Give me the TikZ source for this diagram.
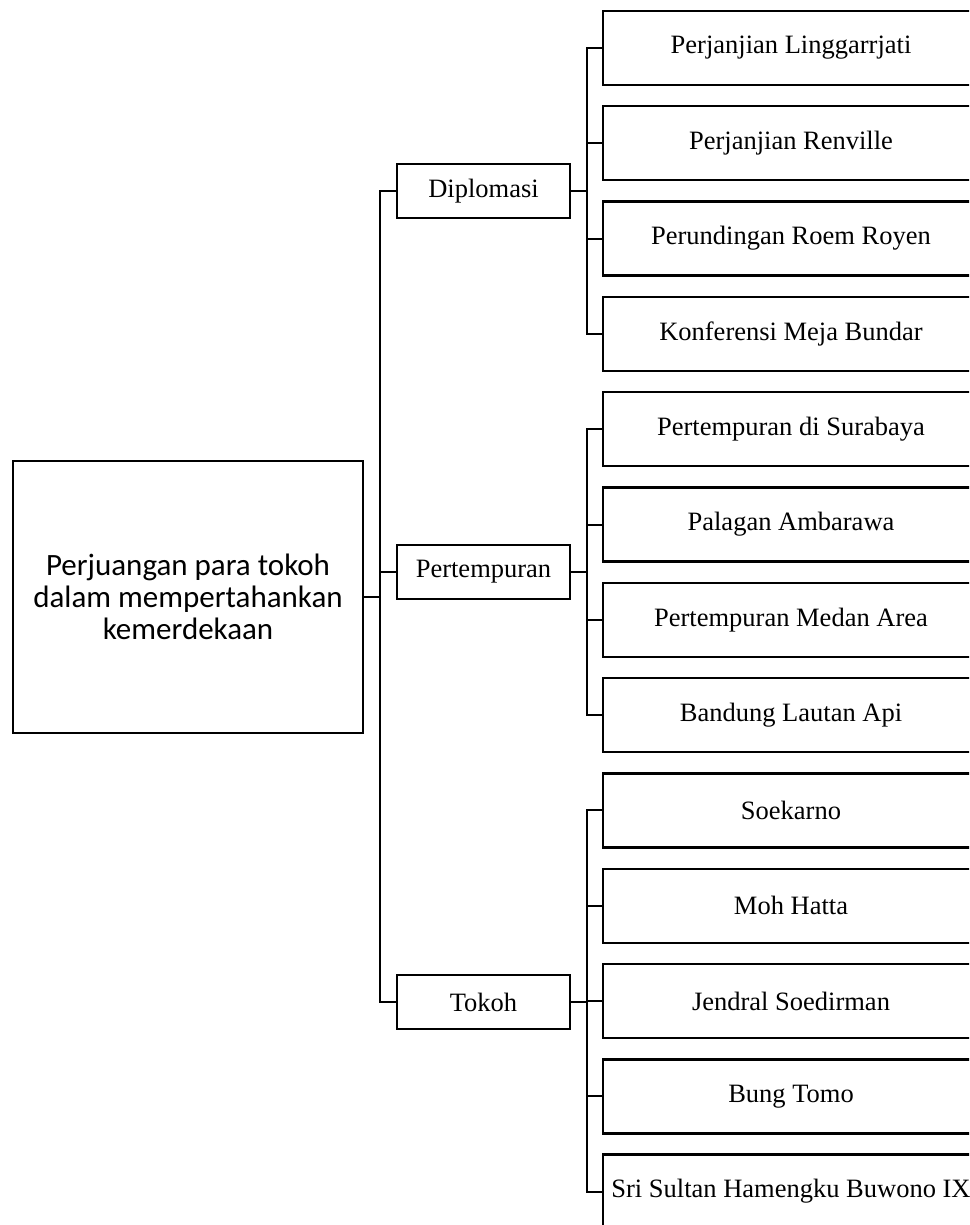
\documentclass[tikz,border=0pt]{standalone}
\usepackage{fontspec}
\setmainfont{Liberation Serif}
\newfontfamily\rootfont{Carlito}
\begin{document}
\begin{tikzpicture}[x=1pt,y=-1pt,
  box/.style={draw=black,line width=2.4pt,fill=white,inner sep=0pt,align=center},
  rootbox/.style={box,minimum width=350pt,minimum height=272pt,font=\rootfont\fontsize{31}{32}\selectfont},
  midbox/.style={box,minimum width=173pt,minimum height=54pt,font=\fontsize{26.5}{30}\selectfont},
  leafbox/.style={box,minimum width=376pt,minimum height=74pt,font=\fontsize{26.5}{30}\selectfont},
  conn/.style={draw=black,line width=2pt,line join=miter}]
\useasboundingbox (0,0) rectangle (969,1225);
\clip (0,0) rectangle (969,1225);
\coordinate (tr) at (380,0);
\coordinate (st) at (587,0);
\node[rootbox] (root) at (188,597) {Perjuangan para tokoh\\dalam mempertahankan\\kemerdekaan};
\node[midbox] (dip) at (483.5,191) {Diplomasi};
\node[midbox] (pert) at (483.5,572) {Pertempuran};
\node[midbox] (tok) at (483.5,1002) {Tokoh};
\foreach \i/\t in {0/Perjanjian Linggarrjati,1/Perjanjian Renville,2/Perundingan Roem Royen,3/Konferensi Meja Bundar,4/Pertempuran di Surabaya,5/Palagan Ambarawa,6/Pertempuran Medan Area,7/Bandung Lautan Api,8/Soekarno,9/Moh Hatta,10/Jendral Soedirman,11/Bung Tomo,12/Sri Sultan Hamengku Buwono IX}
  \node[leafbox] (l\i) at (791,48+95.3*\i) {\t};
% main trunk
\draw[conn] (root.east) -- (root.east -| tr);
\draw[conn] (dip.west) -- (dip.west -| tr) -- (tok.west -| tr) -- (tok.west);
\draw[conn] (pert.west) -- (pert.west -| tr);
% sub trunks
\draw[conn] (dip.east) -- (dip.east -| st);
\draw[conn] (l0.west) -- (l0.west -| st) -- (l3.west -| st) -- (l3.west);
\foreach \i in {1,2} \draw[conn] (l\i.west) -- (l\i.west -| st);
\draw[conn] (pert.east) -- (pert.east -| st);
\draw[conn] (l4.west) -- (l4.west -| st) -- (l7.west -| st) -- (l7.west);
\foreach \i in {5,6} \draw[conn] (l\i.west) -- (l\i.west -| st);
\draw[conn] (tok.east) -- (tok.east -| st);
\draw[conn] (l8.west) -- (l8.west -| st) -- (l12.west -| st) -- (l12.west);
\foreach \i in {9,10,11} \draw[conn] (l\i.west) -- (l\i.west -| st);
\end{tikzpicture}
\end{document}
